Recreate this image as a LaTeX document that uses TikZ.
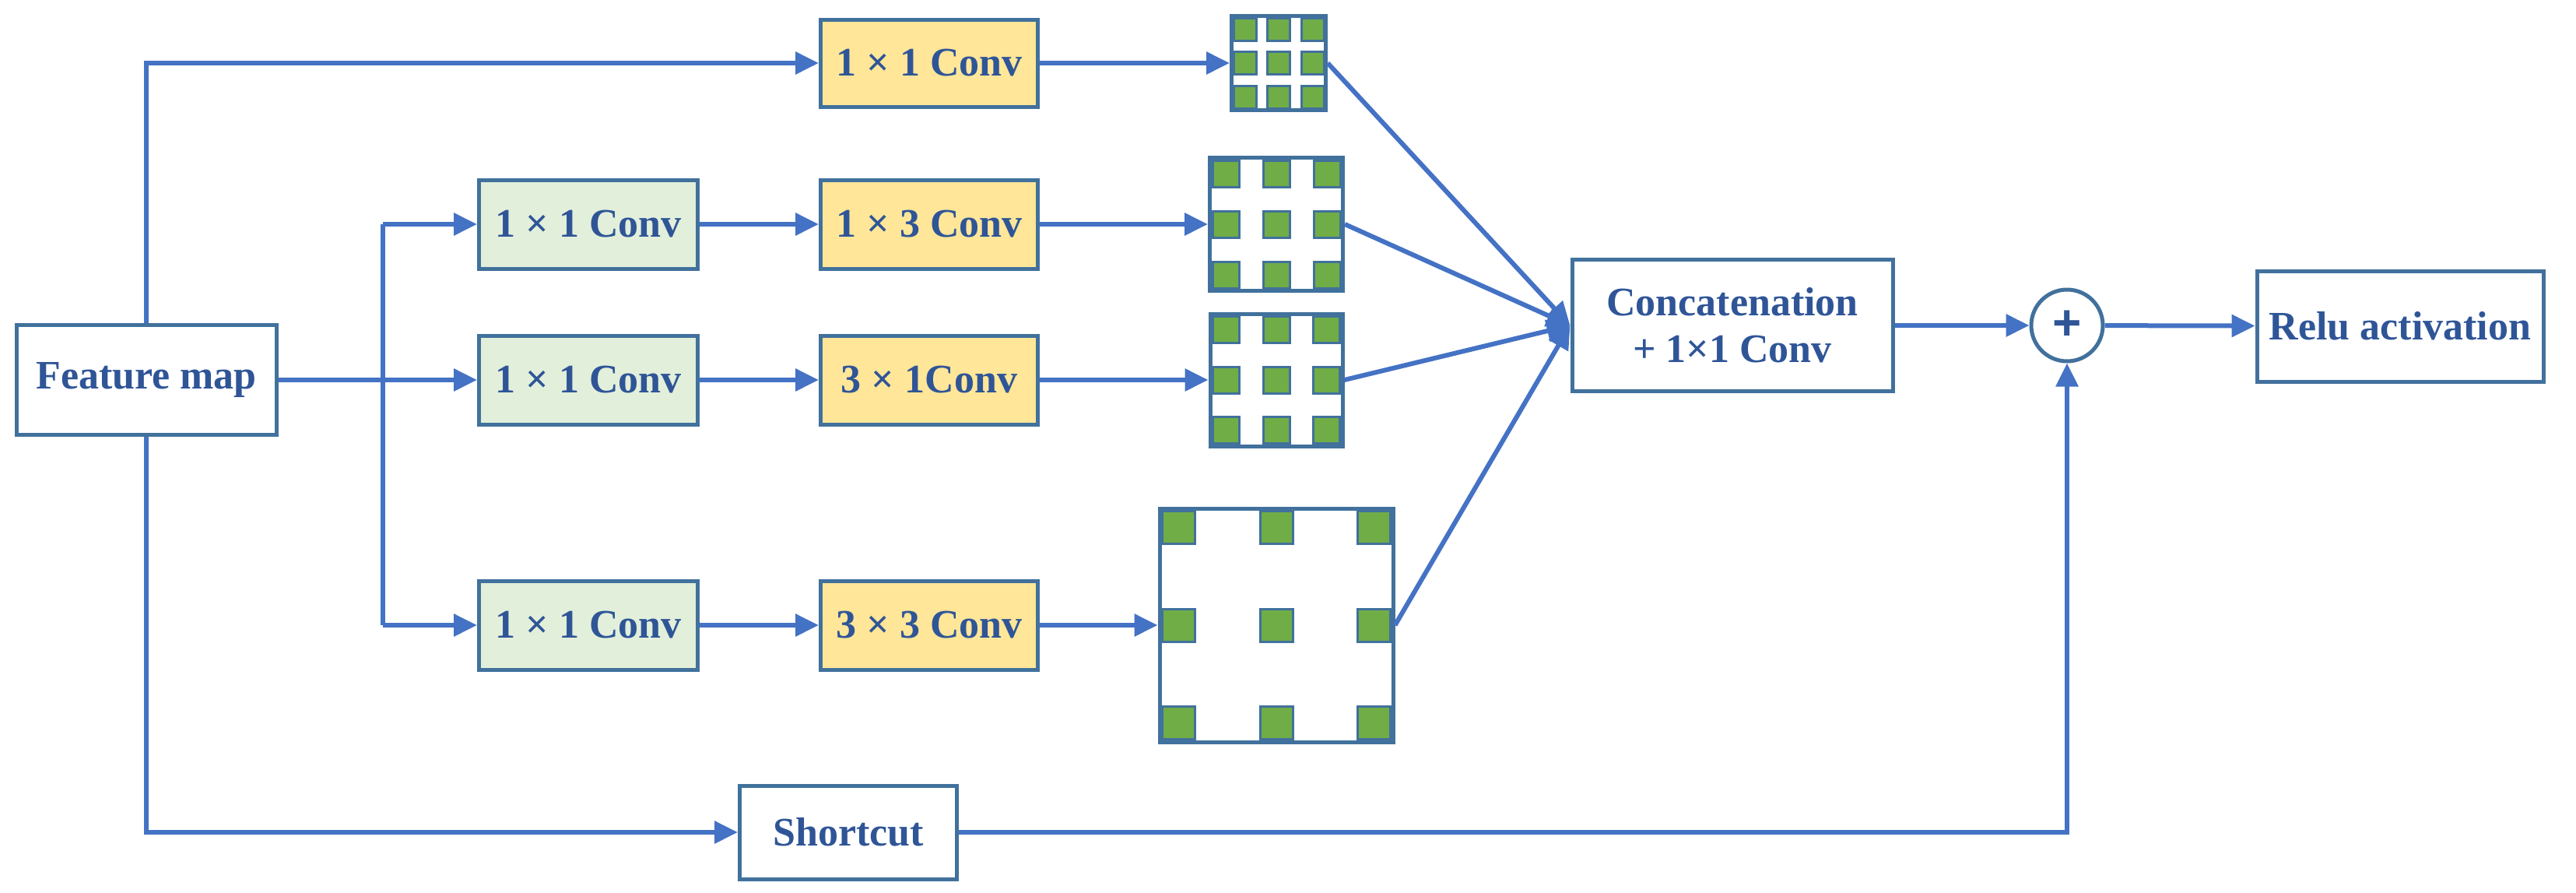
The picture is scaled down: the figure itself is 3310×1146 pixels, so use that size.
\documentclass[tikz,border=0pt]{standalone}
\usepackage{fontspec}
\setmainfont{Liberation Serif}
\newfontfamily\plusfont{Liberation Sans}
\usetikzlibrary{arrows.meta}
\definecolor{bord}{HTML}{41719C}
\definecolor{arr}{HTML}{4472C4}
\definecolor{gfill}{HTML}{E2EFDA}
\definecolor{yfill}{HTML}{FFE699}
\definecolor{cell}{HTML}{70AD47}
\definecolor{txt}{HTML}{2F5597}
\newcommand\gridcells[4]{%
  \foreach \i in {0,1,2}{\foreach \j in {0,1,2}{%
    \pgfmathsetmacro\xa{#1-#3/2+\i*(#3-#4)/2}
    \pgfmathsetmacro\ya{#2-#3/2+\j*(#3-#4)/2}
    \draw[bord,line width=3,fill=cell] (\xa,\ya) rectangle ++(#4,#4);
  }}}
\begin{document}
\begin{tikzpicture}[x=1pt,y=-1pt,
  box/.style={draw=bord,line width=5,minimum width=#1,inner sep=0,text=txt,
    font=\fontsize{52}{60}\selectfont\bfseries,align=center},
  gbox/.style={box=281,fill=gfill,minimum height=114},
  ybox/.style={box=279,fill=yfill,minimum height=114},
  grid/.style={draw=bord,line width=5,minimum size=#1,inner sep=0},
  ln/.style={arr,line width=6},
  ar/.style={ln,-{Triangle[length=30,width=28]}}]
\useasboundingbox (0,0) rectangle (3310,1146);
\node[box=334,minimum height=141] (fm) at (188,488) {Feature map};
\node[ybox,minimum height=112] (c0) at (1194,81) {1 × 1 Conv};
\node[gbox] (a1) at (756,288) {1 × 1 Conv};
\node[gbox] (a2) at (756,488) {1 × 1 Conv};
\node[gbox] (a3) at (756,803) {1 × 1 Conv};
\node[ybox] (b1) at (1194,288) {1 × 3 Conv};
\node[ybox] (b2) at (1194,488) {3 × 1Conv};
\node[ybox] (b3) at (1194,803) {3 × 3 Conv};
\node[grid=121] (g0) at (1643,81) {};
\node[grid=171] (g1) at (1640,288) {};
\node[grid=170] (g2) at (1640,488) {};
\node[grid=300] (g3) at (1640,803) {};
\gridcells{1643}{81}{116}{29}
\gridcells{1640}{288}{164}{34}
\gridcells{1640}{488}{163}{34}
\gridcells{1640}{803}{293}{42}
\node[box=412,minimum height=169] (cc) at (2226,418) {Concatenation\\+ 1×1 Conv};
\node[draw=bord,line width=5,circle,minimum size=92,inner sep=0,text=txt,
  font=\plusfont\fontsize{64}{64}\selectfont\bfseries] (pl) at (2656,418) {+};
\node[box=368,minimum height=142] (re) at (3084,419) {Relu activation};
\node[box=279,minimum height=120] (sc) at (1090,1069) {Shortcut};
\coordinate (v1) at (492,288);
\coordinate (v3) at (492,803);
\draw[ar] (fm.north) |- (c0.west);
\draw[ar] (fm.east) -- (a2.west);
\draw[ln] (v1) -- (v3);
\draw[ar] (v1) -- (a1.west);
\draw[ar] (v3) -- (a3.west);
\draw[ar] (a1) -- (b1);
\draw[ar] (a2) -- (b2);
\draw[ar] (a3) -- (b3);
\draw[ar] (c0.east) -- (g0.west);
\draw[ar] (b1.east) -- (g1.west);
\draw[ar] (b2.east) -- (g2.west);
\draw[ar] (b3.east) -- (g3.west);
\draw[ar] (g0.east) -- (cc.west);
\draw[ar] (g1.east) -- (cc.west);
\draw[ar] (g2.east) -- (cc.west);
\draw[ar] (g3.east) -- (cc.west);
\draw[ar] (cc) -- (pl);
\draw[ar] (pl) -- (re);
\draw[ar] (fm.south) |- (sc.west);
\draw[ar] (sc.east) -| (pl.south);
\end{tikzpicture}
\end{document}
